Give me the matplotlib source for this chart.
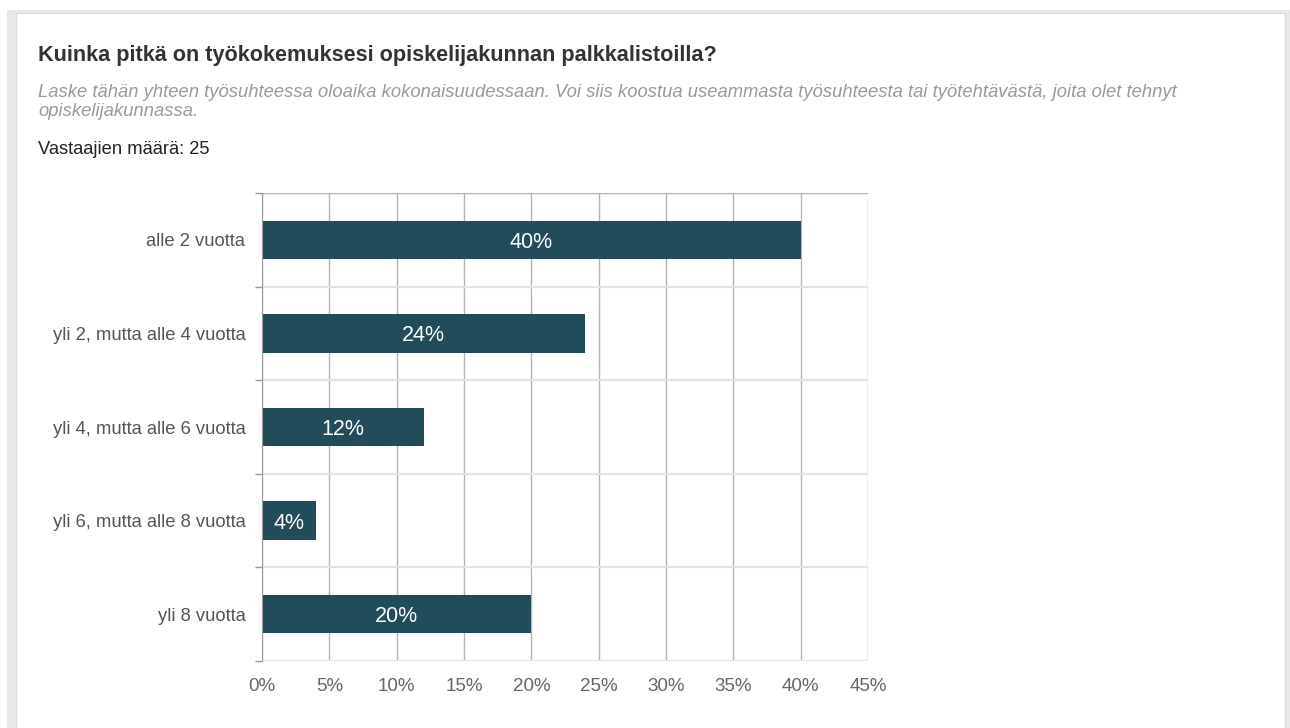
import matplotlib
matplotlib.use("Agg")
import matplotlib.pyplot as plt
from matplotlib.patches import Rectangle

plt.rcParams['font.family'] = ['Liberation Sans', 'DejaVu Sans']

categories = ["alle 2 vuotta", "yli 2, mutta alle 4 vuotta", "yli 4, mutta alle 6 vuotta",
              "yli 6, mutta alle 8 vuotta", "yli 8 vuotta"]
values = [40, 24, 12, 4, 20]
xticks = [0, 5, 10, 15, 20, 25, 30, 35, 40, 45]
xtick_labels = [f"{t}%" for t in xticks]

title = "Kuinka pitkä on työkokemuksesi opiskelijakunnan palkkalistoilla?"
subtitle1 = "Laske tähän yhteen työsuhteessa oloaika kokonaisuudessaan. Voi siis koostua useammasta työsuhteesta tai työtehtävästä, joita olet tehnyt"
subtitle2 = "opiskelijakunnassa."
respondents = "Vastaajien määrä: 25"

W, H = 1290, 728
fig = plt.figure(figsize=(W / 100, H / 100), dpi=100)
fig.patch.set_facecolor("white")

def fx(x):
    return x / W

def fy(y):
    return 1 - y / H

# Panel background
fig.patches.append(Rectangle((fx(7), 0), 1, fy(10), transform=fig.transFigure,
                             facecolor="#e8e8e8", edgecolor="none", zorder=0))
fig.patches.append(Rectangle((fx(16), -0.1), fx(1285) - fx(16), fy(13) + 0.1,
                             transform=fig.transFigure, facecolor="white",
                             edgecolor="#dcdcdc", linewidth=1, zorder=1))

fig.text(fx(38), fy(61), title, fontsize=15.6, fontweight="bold", color="#333333", va="baseline")
fig.text(fx(38), fy(97), subtitle1, fontsize=13.2, style="italic", color="#9a9a9a", va="baseline")
fig.text(fx(38), fy(116), subtitle2, fontsize=13.2, style="italic", color="#9a9a9a", va="baseline")
fig.text(fx(38), fy(154), respondents, fontsize=13.2, color="#222222", va="baseline")

ax = fig.add_axes([fx(262), fy(661), fx(868) - fx(262), fy(193) - fy(661)])
ax.set_zorder(3)
ax.set_facecolor("white")
n = len(categories)
ypos = list(range(n))
bars = ax.barh(ypos, values, height=0.41, color="#234c5a", zorder=3)
for b, v in zip(bars, values):
    ax.text(b.get_width() / 2, b.get_y() + b.get_height() / 2, f"{v}%",
            ha="center", va="center_baseline", color="white", fontsize=15.5, zorder=4)

ax.set_xlim(0, 45)
ax.set_ylim(n - 0.5, -0.5)
ax.set_xticks(xticks)
ax.set_xticklabels(xtick_labels, fontsize=13.5, color="#666666")
ax.set_yticks(ypos)
ax.set_yticklabels(categories, fontsize=13.2, color="#555555")
ax.tick_params(axis="y", length=0, pad=12)
ax.tick_params(axis="x", length=0, pad=12)

# grid lines
for t in xticks:
    ax.axvline(t, color="#b3b3b3", linewidth=1, zorder=1)
for b in [i + 0.5 for i in range(-1, n)]:
    ax.axhline(b, color="#e3e3e3", linewidth=1.6, zorder=1)
ax.axhline(-0.5, color="#b3b3b3", linewidth=1, zorder=2)
# left tick marks at band boundaries
ax.set_yticks([i + 0.5 for i in range(-1, n)], minor=True)
ax.tick_params(axis="y", which="minor", length=5, color="#999999", width=1)

for s in ax.spines.values():
    s.set_visible(False)
ax.spines["left"].set_visible(True)
ax.spines["left"].set_color("#999999")
ax.spines["left"].set_zorder(5)

fig.savefig("out.png", dpi=100)
